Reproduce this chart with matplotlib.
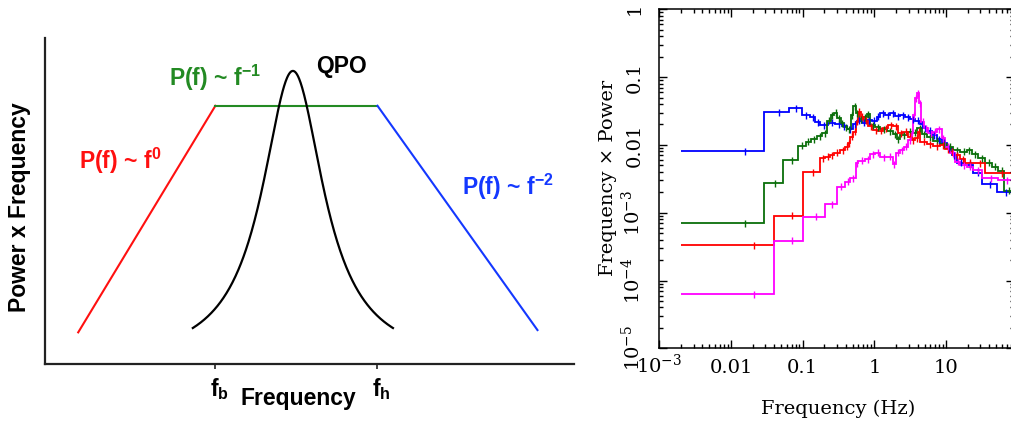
import numpy as np
import matplotlib
matplotlib.use("Agg")
import matplotlib.pyplot as plt
from matplotlib.ticker import FixedLocator, FixedFormatter, LogLocator, NullFormatter

# ---------------- schematic power spectrum (left) ----------------
sketch_x = [0.0635, 0.3226, 0.6288, 0.931]   # start, f_b, f_h, end (axis fraction)
sketch_y = [0.098, 0.793, 0.793, 0.105]
sketch_ticks = [0.3226, 0.6288]
sketch_tick_labels = ["f$_{b}$", "f$_{h}$"]
qpo_centre = 0.469
qpo_hwhm = 0.071
qpo_peak = 0.90
qpo_half_span = 0.189

# ---------------- measured power spectra (right) ----------------
blue_edges = [0.002, 0.0289, 0.0645, 0.0968, 0.1265, 0.1486, 0.1745, 0.2281, 0.2826, 0.3501,
              0.4111, 0.5093, 0.5666, 0.6657, 0.7818, 0.9179, 1.078, 1.200, 1.409, 1.654,
              1.943, 2.281, 2.680, 3.146, 3.694, 4.338, 4.829, 5.490, 6.310, 7.412,
              8.70, 10.22, 12.00, 14.09, 18.41, 24.07, 31.46, 50.93, 87.0]
blue_vals = [0.0080, 0.0303, 0.0347, 0.0276, 0.0255, 0.0215, 0.0197, 0.0213, 0.0204, 0.0190,
             0.0170, 0.0204, 0.0228, 0.0213, 0.0233, 0.0228, 0.0261, 0.0292, 0.0273, 0.0292,
             0.0267, 0.0276, 0.0255, 0.0239, 0.0228, 0.0204, 0.0176, 0.0162, 0.0140, 0.0121,
             0.0108, 0.0089, 0.0071, 0.0055, 0.0051, 0.0039, 0.00265, 0.0020]

green_edges = [0.002, 0.0289, 0.0526, 0.0870, 0.1101, 0.1293, 0.1568, 0.1880, 0.2209, 0.2459,
               0.2737, 0.3046, 0.3391, 0.3773, 0.4200, 0.4674, 0.5093, 0.5546, 0.6045, 0.6874,
               0.7818, 0.8700, 1.022, 1.200, 1.486, 1.841, 2.049, 2.281, 2.827, 3.501,
               3.981, 4.577, 5.374, 6.657, 8.249, 10.22, 12.66, 15.68, 19.43, 22.81,
               28.27, 35.02, 43.37, 53.73, 65.2, 87.0]
green_vals = [0.000706, 0.00274, 0.00600, 0.00976, 0.0112, 0.0122, 0.0135, 0.0148, 0.0228, 0.0276,
              0.0299, 0.0247, 0.0208, 0.0182, 0.0170, 0.0276, 0.0375, 0.0292, 0.0239, 0.0255,
              0.0286, 0.0197, 0.0182, 0.0170, 0.0160, 0.0145, 0.0121, 0.0140, 0.0157, 0.0152,
              0.0176, 0.0145, 0.0129, 0.0116, 0.0103, 0.00943, 0.00842, 0.00796, 0.00842, 0.00735,
              0.00635, 0.00548, 0.00478, 0.00417, 0.00212]

red_edges = [0.002, 0.0402, 0.1022, 0.1745, 0.2049, 0.2406, 0.2737, 0.3319, 0.3897, 0.4337,
             0.4575, 0.5093, 0.5546, 0.5917, 0.6448, 0.7175, 0.8246, 0.9683, 1.137, 1.335,
             1.568, 1.841, 2.162, 2.539, 2.982, 3.319, 3.694, 4.111, 4.338, 5.374,
             6.657, 8.249, 9.68, 11.37, 12.66, 15.68, 18.41, 24.07, 35.02, 87.0]
red_vals = [0.000330, 0.000905, 0.00394, 0.00635, 0.00671, 0.00710, 0.00769, 0.00842, 0.00943, 0.0106,
            0.0132, 0.0157, 0.0220, 0.0310, 0.0261, 0.0228, 0.0190, 0.0166, 0.0162, 0.0176,
            0.0197, 0.0190, 0.0148, 0.0157, 0.0132, 0.0118, 0.0125, 0.0157, 0.0112, 0.0103,
            0.00965, 0.00998, 0.00861, 0.00796, 0.00710, 0.00613, 0.00548, 0.00535, 0.00381]

magenta_edges = [0.002, 0.0402, 0.1022, 0.2049, 0.3046, 0.3897, 0.4575, 0.5546, 0.5980, 0.7411,
                 0.8700, 1.022, 1.200, 1.486, 1.803, 2.006, 2.281, 2.594, 2.982, 3.214,
                 3.501, 3.734, 3.981, 4.246, 4.528, 4.933, 5.669, 6.657, 7.412, 8.70,
                 9.68, 11.37, 13.36, 15.68, 19.43, 24.07, 31.46, 53.73, 87.0]
magenta_vals = [6.26e-5, 0.000387, 0.000875, 0.00135, 0.00242, 0.00287, 0.00322, 0.00535, 0.00586, 0.00613,
                0.00735, 0.00769, 0.00657, 0.00671, 0.00523, 0.00769, 0.00842, 0.00943, 0.0118, 0.0152,
                0.0276, 0.0487, 0.0577, 0.0411, 0.0220, 0.0176, 0.0148, 0.0157, 0.0170, 0.0125,
                0.00943, 0.00752, 0.00566, 0.00506, 0.00478, 0.00427, 0.00322, 0.00304]

rel_err = 0.12

x_tick_vals = [1e-3, 1e-2, 1e-1, 1, 10]
x_tick_labels = [r"$10^{-3}$", "0.01", "0.1", "1", "10"]
y_tick_vals = [1e-5, 1e-4, 1e-3, 1e-2, 1e-1, 1]
y_tick_labels = [r"$10^{-5}$", r"$10^{-4}$", r"$10^{-3}$", "0.01", "0.1", "1"]

W, H = 1012, 421
plt.rcParams["mathtext.fontset"] = "custom"
plt.rcParams["mathtext.rm"] = "Liberation Sans:bold"
plt.rcParams["mathtext.it"] = "Liberation Sans:bold"
plt.rcParams["mathtext.bf"] = "Liberation Sans:bold"

fig = plt.figure(figsize=(W / 100, H / 100), dpi=100)


def fpos(x, y):
    return x / W, 1 - y / H


# ---- left: schematic ----
RED, GREEN, BLUE = "#ff1010", "#238a23", "#1438ff"
sans = "Liberation Sans"
ax1 = fig.add_axes([44.6 / W, 1 - 364.3 / H, 529.4 / W, 326 / H])
ax1.set_xlim(0, 1)
ax1.set_ylim(0, 1)
for s in ("top", "right"):
    ax1.spines[s].set_visible(False)
for s in ("left", "bottom"):
    ax1.spines[s].set_linewidth(1.6)
    ax1.spines[s].set_color("#222222")
ax1.set_yticks([])
ax1.set_xticks(sketch_ticks)
ax1.set_xticklabels([])
ax1.tick_params(axis="x", direction="out", length=3.5, width=1.2, color="#222222")

ax1.plot(sketch_x[0:2], sketch_y[0:2], color=RED, lw=1.5)
ax1.plot(sketch_x[1:3], sketch_y[1:3], color=GREEN, lw=1.5)
ax1.plot(sketch_x[2:4], sketch_y[2:4], color=BLUE, lw=1.5)
qx = np.linspace(qpo_centre - qpo_half_span, qpo_centre + qpo_half_span, 400)
qy = qpo_peak / (1 + ((qx - qpo_centre) / qpo_hwhm) ** 2)
ax1.plot(qx, qy, color="black", lw=1.6)

bold = dict(family=sans, fontweight="bold", fontsize=16.5)
fig.text(*fpos(19.6, 207), "Power x Frequency", rotation=90, ha="center", va="center", **bold)
fig.text(*fpos(298, 398), "Frequency", ha="center", va="center", **bold)
fig.text(*fpos(342, 66), "QPO", ha="center", va="center", **bold)
fig.text(*fpos(219, 389), sketch_tick_labels[0], ha="center", va="center", **bold)
fig.text(*fpos(381, 389), sketch_tick_labels[1], ha="center", va="center", **bold)
fig.text(*fpos(120, 161), "P(f) ~ f$^{0}$", ha="center", va="center", color=RED, **bold)
fig.text(*fpos(215, 78), "P(f) ~ f$^{-1}$", ha="center", va="center", color=GREEN, **bold)
fig.text(*fpos(508, 187), "P(f) ~ f$^{-2}$", ha="center", va="center", color=BLUE, **bold)

# ---- right: measured spectra ----
serif = "DejaVu Serif"
ax2 = fig.add_axes([659.3 / W, 1 - 348.3 / H, 354.7 / W, 339 / H])
ax2.set_xscale("log")
ax2.set_yscale("log")
ax2.set_xlim(1e-3, 88.5)
ax2.set_ylim(1e-5, 1)

series = [
    (blue_edges, blue_vals, "#0000ff"),
    (green_edges, green_vals, "#0a6e0a"),
    (red_edges, red_vals, "#ff0000"),
    (magenta_edges, magenta_vals, "#ff00ff"),
]
for edges, vals, col in series:
    e = np.asarray(edges)
    v = np.asarray(vals)
    ax2.stairs(v, e, baseline=None, color=col, lw=1.3)
    centres = 0.5 * (e[:-1] + e[1:])
    ax2.errorbar(centres, v, yerr=rel_err * v, fmt="none", ecolor=col, elinewidth=1.0, capsize=0)

ax2.xaxis.set_major_locator(FixedLocator(x_tick_vals))
ax2.xaxis.set_major_formatter(FixedFormatter(x_tick_labels))
ax2.yaxis.set_major_locator(FixedLocator(y_tick_vals))
ax2.yaxis.set_major_formatter(FixedFormatter(y_tick_labels))
for axis in (ax2.xaxis, ax2.yaxis):
    axis.set_minor_locator(LogLocator(base=10, subs=np.arange(2, 10), numticks=30))
    axis.set_minor_formatter(NullFormatter())
ax2.tick_params(which="both", direction="in", top=True, right=True, width=1.0, color="black")
ax2.tick_params(which="major", length=6)
ax2.tick_params(which="minor", length=3)
ax2.tick_params(axis="x", which="major", pad=18)
ax2.tick_params(axis="y", which="major", pad=11, labelrotation=90)
for sp in ax2.spines.values():
    sp.set_linewidth(1.1)

for lab in ax2.get_xticklabels():
    lab.set_fontfamily(serif)
    lab.set_fontsize(14)
    lab.set_math_fontfamily("dejavuserif")
    lab.set_va("baseline")
for lab in ax2.get_yticklabels():
    lab.set_fontfamily(serif)
    lab.set_fontsize(14)
    lab.set_math_fontfamily("dejavuserif")
    lab.set_va("center")

fig.text(*fpos(838, 409), "Frequency (Hz)", ha="center", va="center", family=serif, fontsize=14)
fig.text(*fpos(608, 178), "Frequency \u00d7 Power", rotation=90, ha="center", va="center",
         family=serif, fontsize=14)

fig.savefig("out.png", dpi=100)
